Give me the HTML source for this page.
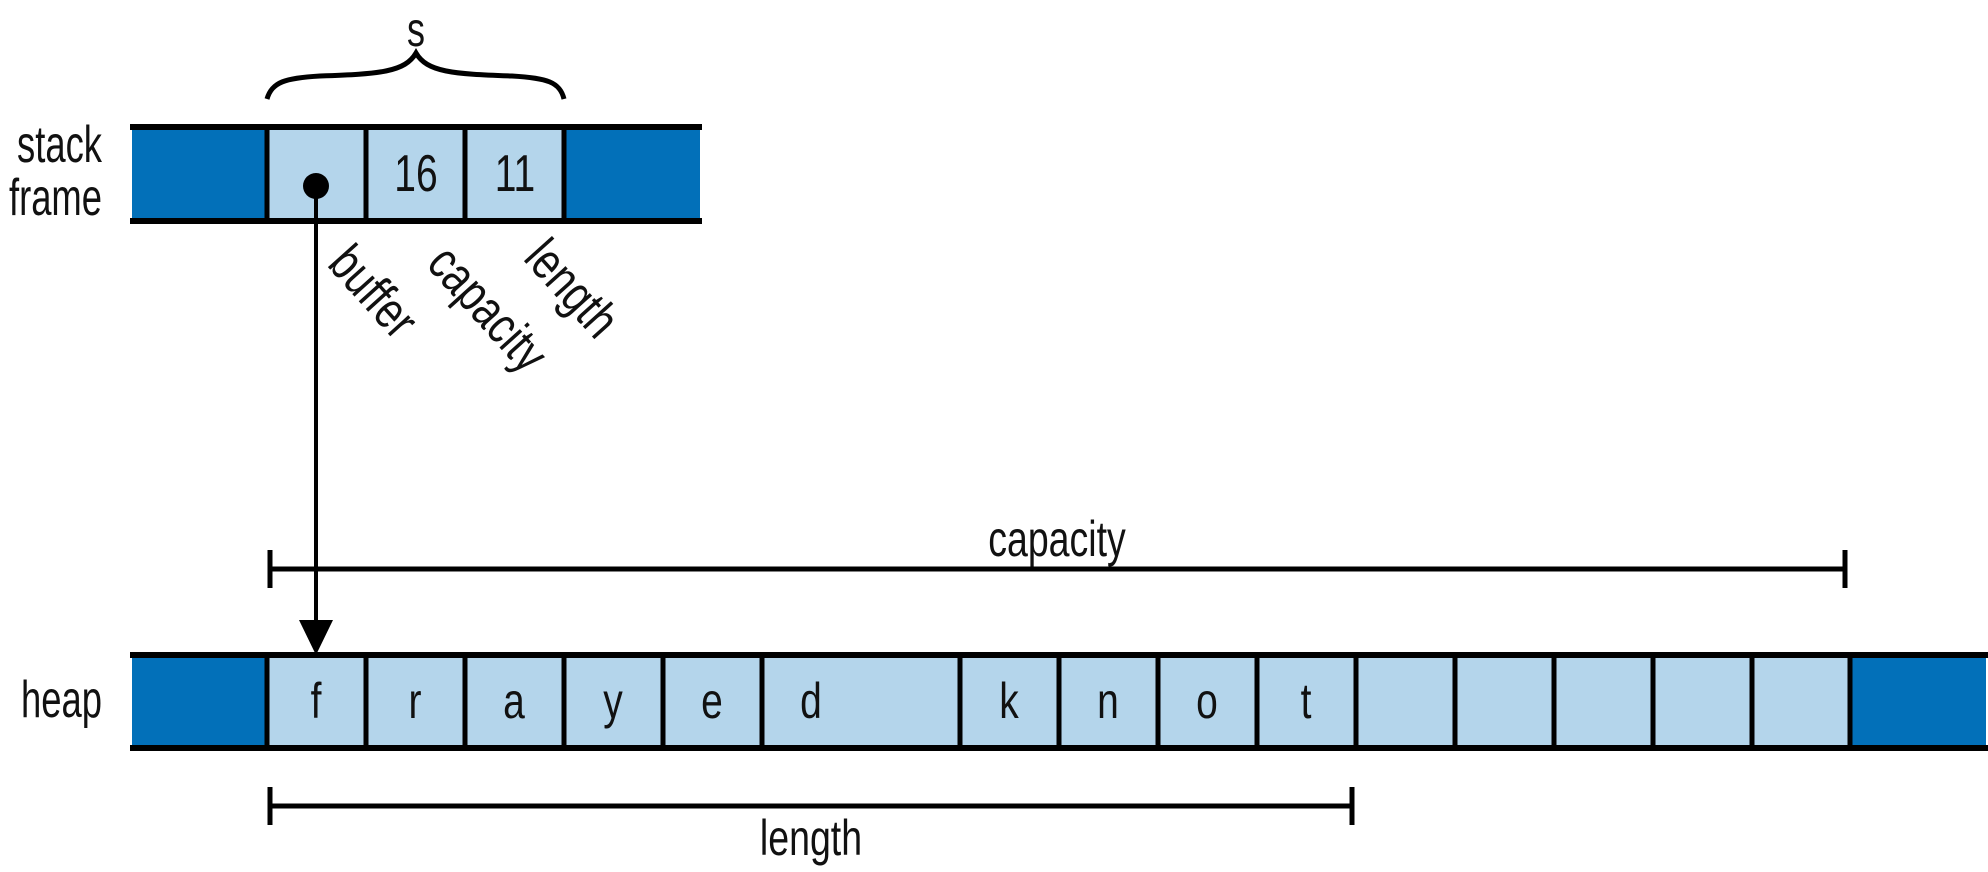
<!DOCTYPE html>
<html><head><meta charset="utf-8"><style>
html,body{margin:0;padding:0;background:#fff;}
svg{display:block;}
text{font-family:"Liberation Sans",sans-serif;fill:#111;}
</style></head><body>
<svg width="1988" height="872" viewBox="0 0 1988 872" xmlns="http://www.w3.org/2000/svg">
<rect x="132" y="127" width="135" height="94" fill="#0270b9"/>
<rect x="564" y="127" width="136" height="94" fill="#0270b9"/>
<rect x="267" y="127" width="297" height="94" fill="#b4d5eb"/>
<g stroke="#000" stroke-width="6">
<line x1="130" y1="127" x2="702" y2="127"/>
<line x1="130" y1="221" x2="702" y2="221"/>
</g>
<g stroke="#000" stroke-width="5">
<line x1="267" y1="127" x2="267" y2="221"/>
<line x1="366" y1="127" x2="366" y2="221"/>
<line x1="465" y1="127" x2="465" y2="221"/>
<line x1="564" y1="127" x2="564" y2="221"/>
</g>
<g transform="translate(416,191) scale(0.75,1)"><text x="0" y="0" font-size="52" text-anchor="middle">16</text></g>
<g transform="translate(515,191) scale(0.75,1)"><text x="0" y="0" font-size="52" text-anchor="middle">11</text></g>
<path d="M267,99 C272,82 285,78 320,76 C380,74 405,72 416,53 C427,72 452,74 512,76 C547,78 560,82 564,99" fill="none" stroke="#000" stroke-width="5"/>
<g transform="translate(416,46) scale(0.75,1)"><text x="0" y="0" font-size="48" text-anchor="middle">s</text></g>
<g transform="translate(102,162) scale(0.7,1)"><text x="0" y="0" font-size="52" text-anchor="end">stack</text></g>
<g transform="translate(102,215) scale(0.7,1)"><text x="0" y="0" font-size="52" text-anchor="end">frame</text></g>
<g transform="translate(102,717) scale(0.7,1)"><text x="0" y="0" font-size="52" text-anchor="end">heap</text></g>
<g transform="translate(354,240) rotate(48) scale(0.78,1)"><text x="0" y="0" font-size="52" dominant-baseline="hanging">buffer</text></g>
<g transform="translate(453,240) rotate(48) scale(0.78,1)"><text x="0" y="0" font-size="52" dominant-baseline="hanging">capacity</text></g>
<g transform="translate(550,234) rotate(48) scale(0.78,1)"><text x="0" y="0" font-size="52" dominant-baseline="hanging">length</text></g>
<circle cx="316" cy="186" r="13" fill="#000"/>
<line x1="316" y1="186" x2="316" y2="625" stroke="#000" stroke-width="4"/>
<polygon points="299,620 333,620 316,655" fill="#000"/>
<g stroke="#000" stroke-width="5">
<line x1="270" y1="569" x2="1845" y2="569"/>
<line x1="270" y1="550" x2="270" y2="588"/>
<line x1="1845" y1="550" x2="1845" y2="588"/>
<line x1="270" y1="806" x2="1352" y2="806"/>
<line x1="270" y1="787" x2="270" y2="825"/>
<line x1="1352" y1="787" x2="1352" y2="825"/>
</g>
<g transform="translate(1057,556) scale(0.75,1)"><text x="0" y="0" font-size="50" text-anchor="middle">capacity</text></g>
<g transform="translate(811,855) scale(0.75,1)"><text x="0" y="0" font-size="50" text-anchor="middle">length</text></g>
<rect x="132" y="655" width="135" height="93" fill="#0270b9"/>
<rect x="1850" y="655" width="136" height="93" fill="#0270b9"/>
<rect x="267" y="655" width="1583" height="93" fill="#b4d5eb"/>
<g stroke="#000" stroke-width="6">
<line x1="130" y1="655" x2="1988" y2="655"/>
<line x1="130" y1="748" x2="1988" y2="748"/>
</g>
<g stroke="#000" stroke-width="5">
<line x1="267" y1="655" x2="267" y2="748"/>
<line x1="366" y1="655" x2="366" y2="748"/>
<line x1="465" y1="655" x2="465" y2="748"/>
<line x1="564" y1="655" x2="564" y2="748"/>
<line x1="663" y1="655" x2="663" y2="748"/>
<line x1="762" y1="655" x2="762" y2="748"/>
<line x1="960" y1="655" x2="960" y2="748"/>
<line x1="1059" y1="655" x2="1059" y2="748"/>
<line x1="1158" y1="655" x2="1158" y2="748"/>
<line x1="1257" y1="655" x2="1257" y2="748"/>
<line x1="1356" y1="655" x2="1356" y2="748"/>
<line x1="1455" y1="655" x2="1455" y2="748"/>
<line x1="1554" y1="655" x2="1554" y2="748"/>
<line x1="1653" y1="655" x2="1653" y2="748"/>
<line x1="1752" y1="655" x2="1752" y2="748"/>
<line x1="1850" y1="655" x2="1850" y2="748"/>
</g>
<g font-size="50" text-anchor="middle">
<g transform="translate(316,718) scale(0.78,1)"><text>f</text></g>
<g transform="translate(415,718) scale(0.78,1)"><text>r</text></g>
<g transform="translate(514,718) scale(0.78,1)"><text>a</text></g>
<g transform="translate(613,718) scale(0.78,1)"><text>y</text></g>
<g transform="translate(712,718) scale(0.78,1)"><text>e</text></g>
<g transform="translate(811,718) scale(0.78,1)"><text>d</text></g>
<g transform="translate(1009,718) scale(0.78,1)"><text>k</text></g>
<g transform="translate(1108,718) scale(0.78,1)"><text>n</text></g>
<g transform="translate(1207,718) scale(0.78,1)"><text>o</text></g>
<g transform="translate(1306,718) scale(0.78,1)"><text>t</text></g>
</g>
</svg>
</body></html>
